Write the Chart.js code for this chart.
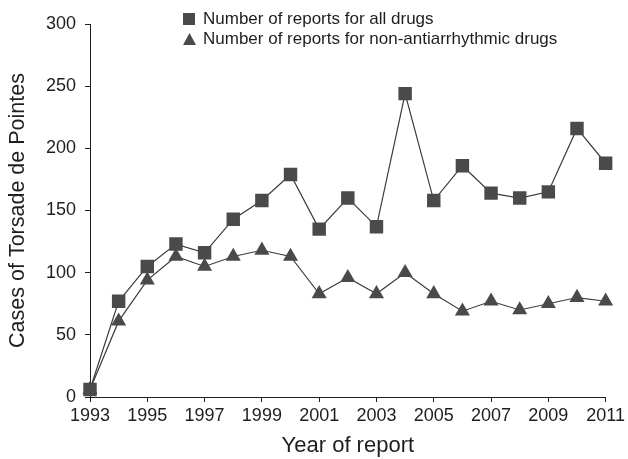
<!DOCTYPE html>
<html>
<head>
<meta charset="utf-8">
<script src="https://cdn.jsdelivr.net/npm/chart.js@4/dist/chart.umd.min.js"></script>
<style>
  html, body { margin: 0; padding: 0; background: #fff; }
  #wrap { width: 628px; height: 459px; position: relative; }
</style>
</head>
<body>
<div id="wrap"><canvas id="c" width="628" height="459"></canvas></div>
<script>
const years = [1993,1994,1995,1996,1997,1998,1999,2000,2001,2002,2003,2004,2005,2006,2007,2008,2009,2010,2011];
const allDrugs = [6,77,105,123,116,143,158,179,135,160,137,244,158,186,164,160,165,216,188];
const nonAntiarrhythmic = [6,61,94,113,105,113,118,113,83,96,83,100,83,69,77,70,75,80,77];
const seriesLabels = ['Number of reports for all drugs', 'Number of reports for non-antiarrhythmic drugs'];
const yTicks = [0,50,100,150,200,250,300];
const xTitle = 'Year of report';
const yTitle = 'Cases of Torsade de Pointes';

const INK = '#1e1e1e';
const MARK = '#4a4a4a';
const LINE = '#3c3c3c';
const FONT = '"Liberation Sans", Arial, Helvetica, sans-serif';

const legendPlugin = {
  id: 'legendOverlay',
  afterDraw(chart) {
    const ctx = chart.ctx;
    ctx.save();
    ctx.fillStyle = MARK;
    ctx.fillRect(183, 13, 12, 12);
    ctx.beginPath();
    ctx.moveTo(189.5, 33);
    ctx.lineTo(196, 45);
    ctx.lineTo(183, 45);
    ctx.closePath();
    ctx.fill();
    ctx.fillStyle = INK;
    ctx.font = '17px ' + FONT;
    ctx.textBaseline = 'middle';
    ctx.textAlign = 'left';
    ctx.fillText(chart.data.datasets[0].label, 203, 19);
    ctx.fillText(chart.data.datasets[1].label, 203, 39.5);
    ctx.restore();
  }
};

new Chart(document.getElementById('c'), {
  type: 'line',
  data: {
    labels: years,
    datasets: [
      {
        label: seriesLabels[0],
        data: allDrugs,
        borderColor: LINE,
        borderWidth: 1.2,
        backgroundColor: MARK,
        pointBackgroundColor: MARK,
        pointBorderColor: MARK,
        pointBorderWidth: 0,
        pointStyle: 'rect',
        pointRadius: 9.5,
        tension: 0
      },
      {
        label: seriesLabels[1],
        data: nonAntiarrhythmic,
        borderColor: LINE,
        borderWidth: 1.2,
        backgroundColor: MARK,
        pointBackgroundColor: MARK,
        pointBorderColor: MARK,
        pointBorderWidth: 0,
        pointStyle: 'triangle',
        pointRadius: 8.7,
        tension: 0
      }
    ]
  },
  options: {
    responsive: false,
    animation: false,
    events: [],
    layout: { padding: { top: 24, right: 21, left: 0, bottom: 0 } },
    plugins: { legend: { display: false }, tooltip: { enabled: false } },
    scales: {
      x: {
        type: 'category',
        offset: false,
        afterFit(s) { s.height = 62; },
        grid: { drawOnChartArea: false, drawTicks: true, tickLength: 5, color: INK, lineWidth: 1 },
        border: { display: true, color: INK, width: 1 },
        title: {
          display: true,
          text: xTitle,
          color: INK,
          font: { family: FONT, size: 22 },
          padding: { top: 0, bottom: 0 }
        },
        ticks: {
          autoSkip: false,
          maxRotation: 0,
          padding: 3,
          color: INK,
          font: { family: FONT, size: 18 },
          callback(v, i) { return i % 2 === 0 ? String(years[i]) : null; }
        }
      },
      y: {
        type: 'linear',
        min: 0,
        max: 300,
        afterFit(s) { s.width = 90; },
        afterBuildTicks(s) { s.ticks = yTicks.map(v => ({ value: v })); },
        grid: { drawOnChartArea: false, drawTicks: true, tickLength: 5, color: INK, lineWidth: 1 },
        border: { display: true, color: INK, width: 1 },
        title: {
          display: true,
          text: yTitle,
          color: INK,
          font: { family: FONT, size: 21.5 },
          padding: { top: 5, bottom: 0 }
        },
        ticks: {
          padding: 9,
          color: INK,
          font: { family: FONT, size: 18 },
          callback(v) { return String(v); }
        }
      }
    }
  },
  plugins: [legendPlugin]
});
</script>
</body>
</html>
